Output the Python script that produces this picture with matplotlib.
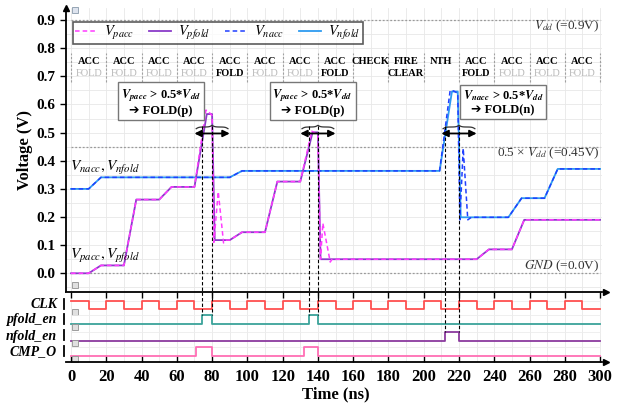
import numpy as np
import matplotlib
matplotlib.use("Agg")
import matplotlib.pyplot as plt
from matplotlib.ticker import MultipleLocator

plt.rcParams["font.family"] = ["Liberation Serif", "DejaVu Serif"]
plt.rcParams["mathtext.fontset"] = "stix"

# ---- analog waveforms (time in ns, voltage in V) ----
t_pfold = [0, 10, 17, 30, 37, 50, 57, 70, 77, 80, 81.5, 90, 97, 110, 117, 130, 137, 140, 141.5,
           230, 237, 250, 257, 300]
v_pfold = [0, 0, 0.028, 0.028, 0.262, 0.262, 0.307, 0.307, 0.566, 0.566, 0.118, 0.118, 0.146,
           0.146, 0.326, 0.326, 0.501, 0.501, 0.05, 0.05, 0.085, 0.085, 0.19, 0.19]

t_pacc = [0, 10, 17, 30, 37, 50, 57, 70, 76.5, 78, 80, 81, 83.5, 86.5, 88, 90, 97, 110, 117, 130,
          136.5, 138, 140, 141.5, 142.8, 147, 148, 230, 237, 250, 257, 300]
v_pacc = [0, 0, 0.028, 0.028, 0.262, 0.262, 0.307, 0.307, 0.58, 0.575, 0.56, 0.11, 0.29, 0.108,
          0.118, 0.118, 0.146, 0.146, 0.326, 0.326, 0.505, 0.50, 0.49, 0.05, 0.178, 0.04, 0.05,
          0.05, 0.085, 0.085, 0.19, 0.19]

t_nfold = [0, 10, 17, 90, 97, 209, 216, 219.3, 221, 248, 255.5, 268.5, 276, 300]
v_nfold = [0.30, 0.30, 0.341, 0.341, 0.364, 0.364, 0.646, 0.646, 0.199, 0.199, 0.267, 0.267,
           0.371, 0.371]

t_nacc = [0, 10, 17, 90, 97, 209, 215, 217, 219.3, 220.5, 222.4, 225, 227, 248, 255.5, 268.5,
          276, 300]
v_nacc = [0.30, 0.30, 0.341, 0.341, 0.364, 0.364, 0.65, 0.648, 0.64, 0.19, 0.444, 0.19, 0.199,
          0.199, 0.267, 0.267, 0.371, 0.371]

# ---- digital signals (edge times, level after edge) ----
clk_t = [0, 10, 20, 30, 40, 50, 60, 70, 80, 90, 100, 110, 120, 130, 140, 150, 160, 170, 180,
         190, 200, 210, 220, 230, 240, 250, 260, 270, 280, 290, 300]
clk_v = [1, 0, 1, 0, 1, 0, 1, 0, 1, 0, 1, 0, 1, 0, 1, 0, 1, 0, 1, 0, 1, 0, 1, 0, 1, 0, 1, 0, 1, 0, 0]
pfold_t = [0, 74, 80, 135, 140, 300]
pfold_v = [0, 1, 0, 1, 0, 0]
nfold_t = [0, 212, 220, 300]
nfold_v = [0, 1, 0, 0]
cmp_t = [0, 71, 80, 132, 140, 300]
cmp_v = [0, 1, 0, 1, 0, 0]

# ---- phase labels ----
phase_starts = [0, 20, 40, 60, 80, 100, 120, 140, 160, 180, 200, 220, 240, 260, 280]
phase_top = ["ACC"] * 8 + ["CHECK", "FIRE", "NTH"] + ["ACC"] * 4
phase_bot = ["FOLD"] * 8 + ["", "CLEAR", ""] + ["FOLD"] * 4
phase_fold_active = [4, 7, 11]

fold_windows = [(70, 90), (130, 150), (210, 230)]
fold_marks = [(74, 80), (135, 140), (212, 220)]
fold_box_x = [51, 137, 245]
fold_box_txt = [r"$\mathbfit{V}_{\mathbfit{pacc}}$ > 0.5*$\mathbfit{V}_{\mathbfit{dd}}$" + "\n➔ FOLD(p)",
                r"$\mathbfit{V}_{\mathbfit{pacc}}$ > 0.5*$\mathbfit{V}_{\mathbfit{dd}}$" + "\n➔ FOLD(p)",
                r"$\mathbfit{V}_{\mathbfit{nacc}}$ > 0.5*$\mathbfit{V}_{\mathbfit{dd}}$" + "\n➔ FOLD(n)"]

C_PACC = "#FF3BFF"
C_PFOLD = "#8A3CC8"
C_NACC = "#1F3FFF"
C_NFOLD = "#2E9BF0"

W, H = 624, 403
fig = plt.figure(figsize=(W / 100, H / 100), dpi=100)


def px_axes(l, r, t, b):
    return fig.add_axes([l / W, 1 - b / H, (r - l) / W, (b - t) / H])


XMIN, XMAX = -2.84, 301.1
ax = px_axes(66, 602, 8, 292)
axd = px_axes(66, 602, 292, 362)

# ---------- top panel ----------
ax.set_xlim(XMIN, XMAX)
ax.set_ylim(-0.0665, 0.943)
ax.xaxis.set_major_locator(MultipleLocator(20))
ax.xaxis.set_minor_locator(MultipleLocator(10))
ax.yaxis.set_major_locator(MultipleLocator(0.1))
ax.yaxis.set_minor_locator(MultipleLocator(0.05))
ax.grid(which="both", color="#E8E8E8", lw=0.6)
ax.set_axisbelow(True)
for s in ["top", "right", "bottom"]:
    ax.spines[s].set_visible(False)
ax.spines["left"].set_linewidth(1.3)
ax.tick_params(axis="x", which="both", length=0, labelbottom=False)
ax.tick_params(axis="y", which="major", direction="out", length=4, width=1)
ax.tick_params(axis="y", which="minor", length=0)
ax.set_yticklabels([f"{v:.1f}" for v in ax.get_yticks()], fontsize=11, fontweight="bold")
ax.set_ylim(-0.0665, 0.943)
ax.plot(0, 1, "^k", ms=5, transform=ax.transAxes, clip_on=False)

# reference lines
for lvl in [0.9, 0.45, 0.0]:
    ax.plot([0, 300], [lvl, lvl], ls=(0, (1.5, 1.5)), color="#9A9A9A", lw=0.9)
ax.text(299.5, 0.877, r"$V_{dd}$ (=0.9V)", ha="right", va="center", fontsize=9.5, color="#333333")
ax.text(299.5, 0.427, r"0.5 × $V_{dd}$ (=0.45V)", ha="right", va="center", fontsize=9.5,
        color="#333333")
ax.text(299.5, 0.026, r"$GND$ (=0.0V)", ha="right", va="center", fontsize=9.5, color="#333333")

# waveforms
l_nfold, = ax.plot(t_nfold, v_nfold, color=C_NFOLD, lw=1.3)
l_nacc, = ax.plot(t_nacc, v_nacc, color=C_NACC, lw=1.1, ls=(0, (3, 2)))
l_pfold, = ax.plot(t_pfold, v_pfold, color=C_PFOLD, lw=1.3)
l_pacc, = ax.plot(t_pacc, v_pacc, color=C_PACC, lw=1.1, ls=(0, (3, 2)))

ax.text(-0.6, 0.375, r"$V_{nacc}, V_{nfold}$", ha="left", va="center", fontsize=11)
ax.text(-0.6, 0.062, r"$V_{pacc}, V_{pfold}$", ha="left", va="center", fontsize=11)

leg = ax.legend([l_pacc, l_pfold, l_nacc, l_nfold],
                [r"$V_{pacc}$", r"$V_{pfold}$", r"$V_{nacc}$", r"$V_{nfold}$"],
                ncol=4, loc="upper left", bbox_to_anchor=(0.013, 0.951), borderaxespad=0,
                fontsize=10.5, handlelength=1.5, frameon=True, fancybox=False,
                borderpad=0.15, handletextpad=0.5, columnspacing=1.0)
leg.get_frame().set_edgecolor("#333333")
leg.get_frame().set_linewidth(1.2)

# phase row
for i, t0 in enumerate(phase_starts):
    tc = t0 + 10
    ax.text(tc, 0.752, phase_top[i], ha="center", va="center", fontsize=7.5, fontweight="bold")
    if phase_bot[i]:
        active = i in phase_fold_active or phase_bot[i] != "FOLD"
        ax.text(tc, 0.711, phase_bot[i], ha="center", va="center", fontsize=7.5,
                fontweight="bold" if active else "normal",
                color="black" if active else "#B8B8B8")
for t0 in phase_starts + [300]:
    ax.plot([t0, t0], [0.68, 0.783], ls=(0, (2, 1.5)), color="#A0A0A0", lw=0.8)


def brace(x0, x1, y, h):
    n = 101
    x = np.linspace(x0, x1, n)
    xh = x[: n // 2 + 1]
    beta = 1.3
    yh = 1 / (1 + np.exp(-beta * (xh - xh[0]))) + 1 / (1 + np.exp(-beta * (xh - xh[-1])))
    yb = np.concatenate((yh, yh[-2::-1]))
    ax.plot(x, y + (yb - 0.5) * h, color="#333333", lw=0.9)


for (a, b), (m1, m2), bx, txt in zip(fold_windows, fold_marks, fold_box_x, fold_box_txt):
    ax.annotate("", xy=(b, 0.497), xytext=(a, 0.497),
                arrowprops=dict(arrowstyle="<|-|>", color="black", lw=1.3,
                                mutation_scale=10, shrinkA=0, shrinkB=0))
    brace(a + 1, b - 1, 0.514, 0.012)
    for m in (m1, m2):
        ax.plot([m, m], [0.525, -0.0665], ls=(0, (3, 2)), color="black", lw=0.8)
    ax.text(bx, 0.608, txt, ha="center", va="center", fontsize=9, fontweight="bold",
            linespacing=1.1, family=["Liberation Serif", "DejaVu Sans"],
            bbox=dict(boxstyle="square,pad=0.22", fc="white", ec="#777777", lw=1))

ax.plot(2.3, 0.935, "s", ms=4, mfc="#DDE3EE", mec="#8899AA", mew=0.6, clip_on=False)
ax.plot(2.3, -0.04, "s", ms=4, mfc="#E0E0E0", mec="#909090", mew=0.6, clip_on=False)

fig.text(25 / W, 1 - 150 / H, "Voltage (V)", rotation=90, ha="center", va="center",
         fontsize=12, fontweight="bold")

# ---------- digital panel ----------
axd.set_xlim(XMIN, XMAX)
axd.set_ylim(0, 70)
axd.xaxis.set_major_locator(MultipleLocator(20))
axd.xaxis.set_minor_locator(MultipleLocator(10))
axd.grid(which="both", axis="x", color="#E8E8E8", lw=0.6)
axd.set_axisbelow(True)
axd.set_yticks([])
axd.spines["left"].set_visible(False)
axd.spines["right"].set_visible(False)
axd.spines["top"].set_linewidth(1.3)
axd.spines["bottom"].set_linewidth(1.3)
axd.tick_params(axis="x", which="major", direction="in", length=4, width=1, top=True, pad=5)
axd.tick_params(axis="x", which="minor", length=0)
axd.plot(1.008, 1, ">k", ms=5, transform=axd.transAxes, clip_on=False)
axd.plot(1.008, 0, ">k", ms=5, transform=axd.transAxes, clip_on=False)

signals = [("CLK", clk_t, clk_v, 52.7, "#FF5050"),
           ("pfold_en", pfold_t, pfold_v, 38.0, "#3AA39A"),
           ("nfold_en", nfold_t, nfold_v, 21.3, "#8B3A9E"),
           ("CMP_O", cmp_t, cmp_v, 6.0, "#FF6EB4")]
for name, ts, vs, base, col in signals:
    axd.plot([0, 300], [base + 8.8, base + 8.8], color="#EDEDED", lw=0.6)
    axd.step(ts, [base + 8.8 * v for v in vs], where="post", color=col, lw=1.3)
    axd.text(-7.9, base + 4.5, name, ha="right", va="center", fontsize=10,
             fontweight="bold", style="italic")
    axd.plot([-4, -4], [base + 0.5, base + 10.5], color="black", lw=1.3, clip_on=False)
    axd.plot(2.3, base - 2.5, "s", ms=4, mfc="#E0E0E0", mec="#909090", mew=0.6, clip_on=False)

for (m1, m2), stop in zip(fold_marks, [47, 47, 30.3]):
    for m in (m1, m2):
        axd.plot([m, m], [70, stop], ls=(0, (3, 2)), color="black", lw=0.8)

axd.set_xticks(list(range(0, 301, 20)))
axd.set_xticklabels([str(v) for v in range(0, 301, 20)], fontweight="bold", fontsize=12)
fig.text(336 / W, 1 - 394 / H, "Time (ns)", ha="center", va="center", fontsize=12,
         fontweight="bold")

fig.savefig("out.png", dpi=100)
